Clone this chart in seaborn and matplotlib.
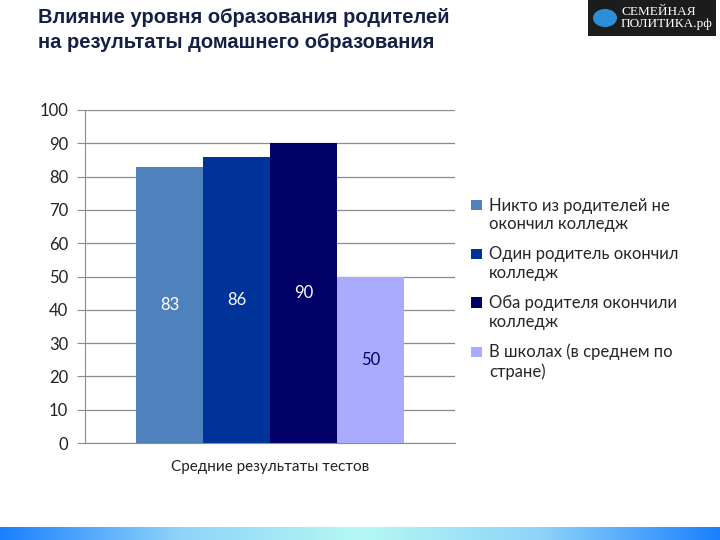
import matplotlib
matplotlib.use("Agg")
import matplotlib.pyplot as plt
from matplotlib.patches import Rectangle, Circle
from matplotlib.colors import LinearSegmentedColormap
from matplotlib.legend_handler import HandlerPatch
import seaborn as sns
import pandas as pd
import numpy as np

# данные
category = ["Средние результаты тестов"]
series = ["Никто из родителей не\nокончил колледж",
          "Один родитель окончил\nколледж",
          "Оба родителя окончили\nколледж",
          "В школах (в среднем по\nстране)"]
values = [83, 86, 90, 50]
bar_colors = ["#4F81BD", "#003399", "#000066", "#AAAAFF"]
label_colors = ["white", "white", "white", "#000066"]
yticks = [0, 10, 20, 30, 40, 50, 60, 70, 80, 90, 100]

df = pd.DataFrame({"group": category * len(series), "series": series, "score": values})

sns.set_style("white")
plt.rcParams['font.family'] = ['Lato', 'DejaVu Sans']

fig = plt.figure(figsize=(7.2, 5.4), dpi=100)
ax = fig.add_axes([85/720, 97/540, 370/720, 333/540])

sns.barplot(data=df, x="group", y="score", hue="series", palette=bar_colors,
            width=0.724, saturation=1, linewidth=0, ax=ax, legend=True)

for cont, col in zip(ax.containers, label_colors):
    ax.bar_label(cont, fmt="%d", label_type="center", color=col, fontsize=12)

ax.set_xlim(-0.5, 0.5)
ax.set_ylim(0, 100)
ax.set_yticks(yticks)
ax.yaxis.grid(True, color="#8c8c8c", linewidth=0.9)
ax.set_axisbelow(True)
ax.tick_params(axis="y", length=6, color="#8c8c8c", labelsize=12, labelcolor="#222222", pad=6, left=True)
ax.tick_params(axis="x", length=0, labelsize=11, labelcolor="#222222", pad=12)
ax.set_xlabel("")
ax.set_ylabel("")
for s in ["top", "right"]:
    ax.spines[s].set_visible(False)
for s in ["left", "bottom"]:
    ax.spines[s].set_color("#8c8c8c")


# квадратик легенды у первой строки подписи
def top_square(legend, orig_handle, xdescent, ydescent, width, height, fontsize):
    size = 0.62 * fontsize
    return Rectangle((-xdescent, -ydescent + height - size + 0.2 * fontsize), size, size)


handles, labels = ax.get_legend_handles_labels()
ax.legend_.remove()
fig.legend(handles, labels, loc="upper left", bbox_to_anchor=(0.634, 0.662),
           frameon=False, fontsize=12, handlelength=0.62, handleheight=2.0,
           handletextpad=0.45, labelspacing=0.85,
           handler_map={Rectangle: HandlerPatch(patch_func=top_square)})

# заголовок
fig.text(38/720, 1 - 8/540, "Влияние уровня образования родителей\nна результаты домашнего образования",
         ha="left", va="top", fontsize=14.5, fontweight="bold", color="#142044",
         family=["Liberation Sans", "DejaVu Sans"], linespacing=1.38)

# логотип
fig.patches.append(Rectangle((588/720, 1 - 36/540), 128/720, 36/540, transform=fig.transFigure,
                             facecolor="#1c1c1c", edgecolor="none"))
fig.patches.append(Circle((605/720, 1 - 18/540), 12/720, transform=fig.transFigure,
                          facecolor="#2a8fd8", edgecolor="none"))
fig.text(621/720, 1 - 18/540, "СЕМЕЙНАЯ\nПОЛИТИКА.рф", ha="left", va="center",
         fontsize=9.5, color="white", family=["Liberation Serif", "DejaVu Serif"], linespacing=0.95)

# полоса внизу
band = fig.add_axes([0, 0, 1, 13/540])
grad = np.abs(np.linspace(-1, 1, 256))[None, :]
cmap = LinearSegmentedColormap.from_list("band", ["#b4f8f4", "#8fd4f8", "#1a80ff"])
band.imshow(grad, aspect="auto", cmap=cmap)
band.axis("off")

fig.savefig("out.png", dpi=100)
